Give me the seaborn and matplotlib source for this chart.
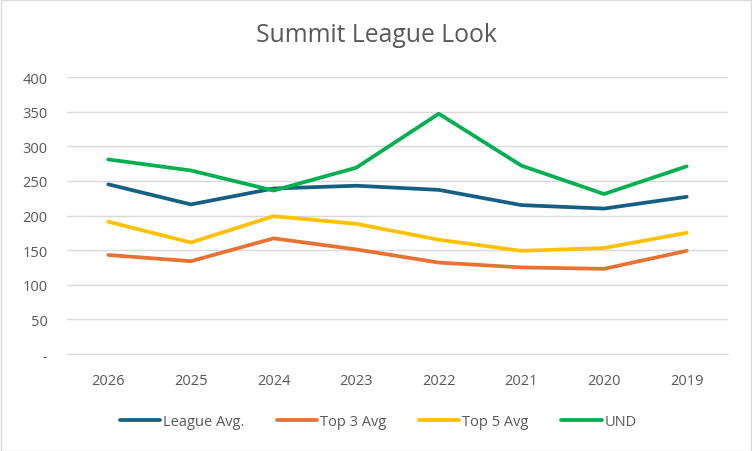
import pandas as pd
import matplotlib
matplotlib.use("Agg")
import matplotlib.pyplot as plt
import seaborn as sns
from matplotlib.patches import Rectangle

years = ["2026", "2025", "2024", "2023", "2022", "2021", "2020", "2019"]
league_avg = [245, 216, 239, 243, 237, 215, 210, 227]
top3_avg = [143, 134, 167, 151, 132, 125, 123, 149]
top5_avg = [191, 161, 199, 188, 165, 149, 153, 175]
und = [281, 265, 236, 269, 347, 272, 231, 271]

series_names = ["League Avg.", "Top 3 Avg", "Top 5 Avg", "UND"]
colors = ["#156082", "#E97132", "#FFC000", "#00B050"]

df = pd.DataFrame({
    "Year": years * 4,
    "Value": league_avg + top3_avg + top5_avg + und,
    "Series": [s for s in series_names for _ in years],
})

sns.set_style("white")
plt.rcParams["font.family"] = ["Open Sans", "DejaVu Sans"]
gray = "#595959"

fig = plt.figure(figsize=(7.52, 4.52), dpi=100)
ax = fig.add_axes([67 / 752, 1 - 355 / 452, 661 / 752, 277 / 452])

sns.lineplot(data=df, x="Year", y="Value", hue="Series", palette=colors,
             linewidth=2.7, sort=False, ax=ax, legend=True)

ax.set_xlim(-0.5, 7.5)
ax.set_ylim(0, 400)
ax.set_yticks(range(0, 401, 50))
ax.set_yticklabels(["-"] + [str(v) for v in range(50, 401, 50)])
ax.yaxis.grid(True, color="#d9d9d9", linewidth=1)
ax.set_axisbelow(True)
for s in ax.spines.values():
    s.set_visible(False)
ax.spines["bottom"].set_visible(True)
ax.spines["bottom"].set_color("#d9d9d9")
ax.tick_params(axis="both", length=0, colors=gray, labelsize=10.5)
ax.tick_params(axis="y", pad=14)
ax.tick_params(axis="x", pad=14)
ax.set_xlabel("")
ax.set_ylabel("")

handles, labels = ax.get_legend_handles_labels()
ax.get_legend().remove()
leg = fig.legend(handles, labels, loc="center", bbox_to_anchor=(0.503, 1 - 423 / 452),
                 ncol=4, frameon=False, fontsize=10.5, labelcolor=gray,
                 handlelength=2.75, handletextpad=0.2, columnspacing=2.25)
for h in leg.get_lines():
    h.set_linewidth(2.7)

fig.text(0.5, 1 - 36 / 452, "Summit League Look", ha="center", va="center",
         fontsize=17.8, color=gray)

fig.patches.append(Rectangle((0.001, 0.001), 0.998, 0.997, transform=fig.transFigure,
                             fill=False, edgecolor="#d9d9d9", linewidth=1))

fig.savefig("out.png", dpi=100)
